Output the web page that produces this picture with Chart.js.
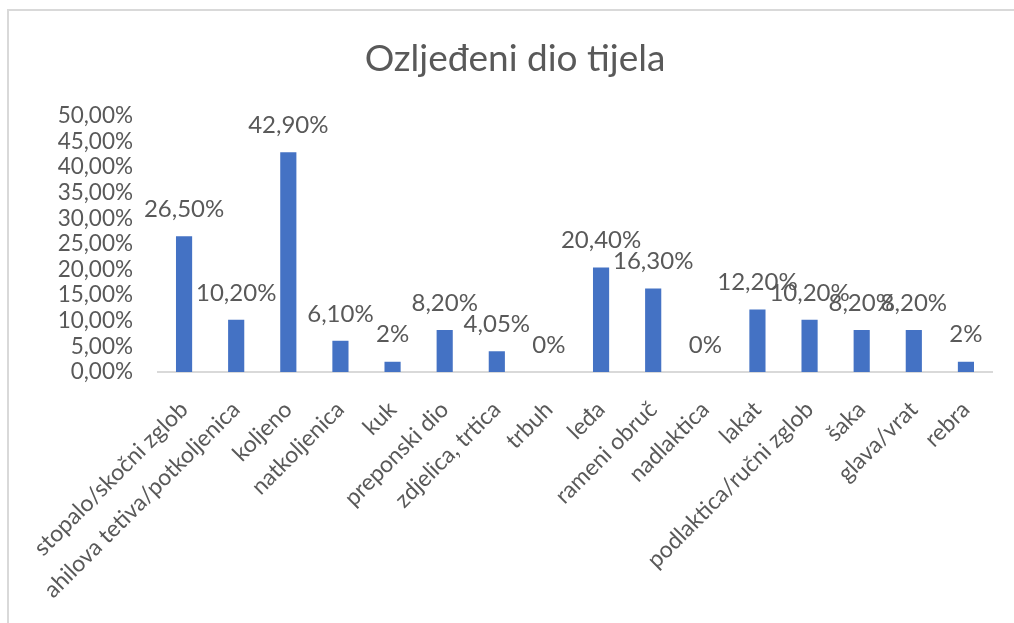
<!DOCTYPE html>
<html>
<head>
<meta charset="utf-8">
<script src="https://cdn.jsdelivr.net/npm/chart.js@4/dist/chart.umd.min.js"></script>
<style>
  html, body { margin: 0; padding: 0; background: #ffffff; overflow: hidden; }
  #wrap { position: relative; width: 1014px; height: 623px; }
  #frame { position: absolute; left: 7px; top: 9px; width: 1020px; height: 630px; border: 2px solid #d9d9d9; box-sizing: border-box; pointer-events: none; }
  canvas { position: absolute; left: 0; top: 0; }
</style>
</head>
<body>
<div id="wrap">
  <canvas id="c" width="1014" height="623"></canvas>
  <div id="frame"></div>
</div>
<script>
const chartTitle = "Ozljeđeni dio tijela";
const categories = [
  "stopalo/skočni zglob", "ahilova tetiva/potkoljenica", "koljeno", "natkoljenica",
  "kuk", "preponski dio", "zdjelica, trtica", "trbuh", "leđa", "rameni obruč",
  "nadlaktica", "lakat", "podlaktica/ručni zglob", "šaka", "glava/vrat", "rebra"
];
const values = [26.5, 10.2, 42.9, 6.1, 2, 8.2, 4.05, 0, 20.4, 16.3, 0, 12.2, 10.2, 8.2, 8.2, 2];
const valueLabels = ["26,50%", "10,20%", "42,90%", "6,10%", "2%", "8,20%", "4,05%", "0%",
  "20,40%", "16,30%", "0%", "12,20%", "10,20%", "8,20%", "8,20%", "2%"];
const yTickLabels = ["0,00%", "5,00%", "10,00%", "15,00%", "20,00%", "25,00%",
  "30,00%", "35,00%", "40,00%", "45,00%", "50,00%"];

const FONT = "Lato, 'Open Sans', sans-serif";
const TEXT = "#595959";

const dataLabelPlugin = {
  id: 'dataLabels',
  afterDatasetsDraw(chart) {
    const ctx = chart.ctx;
    const meta = chart.getDatasetMeta(0);
    ctx.save();
    ctx.font = "24px " + FONT;
    ctx.fillStyle = TEXT;
    ctx.textAlign = 'center';
    ctx.textBaseline = 'middle';
    meta.data.forEach((bar, i) => {
      ctx.fillText(valueLabels[i], bar.x, bar.y - 27);
    });
    ctx.restore();
  }
};

const titlePlugin = {
  id: 'excelTitle',
  afterDraw(chart) {
    const ctx = chart.ctx;
    ctx.save();
    ctx.font = "37px " + FONT;
    ctx.fillStyle = TEXT;
    ctx.textAlign = 'center';
    ctx.textBaseline = 'middle';
    ctx.fillText(chartTitle, 515, 58.6);
    ctx.restore();
  }
};

new Chart(document.getElementById('c'), {
  type: 'bar',
  data: {
    labels: categories,
    datasets: [{
      data: values,
      backgroundColor: '#4472c4',
      borderWidth: 0,
      barPercentage: 0.31,
      categoryPercentage: 1.0
    }]
  },
  options: {
    responsive: false,
    animation: false,
    devicePixelRatio: 1,
    layout: { padding: { left: 0, right: 22, top: 116, bottom: 0 } },
    plugins: {
      legend: { display: false },
      tooltip: { enabled: false },
      title: { display: false }
    },
    scales: {
      x: {
        grid: { display: false, drawTicks: false },
        border: { display: true, color: '#d9d9d9', width: 2 },
        ticks: {
          autoSkip: false,
          minRotation: 45,
          maxRotation: 45,
          color: TEXT,
          padding: 24,
          font: { family: FONT, size: 23 }
        },
        afterFit(scale) { scale.height = 251; }
      },
      y: {
        min: 0,
        max: 50,
        grid: { display: false, drawTicks: false },
        border: { display: false },
        ticks: {
          stepSize: 5,
          autoSkip: false,
          color: TEXT,
          padding: 25,
          font: { family: FONT, size: 22.5 },
          callback: (v, i) => yTickLabels[i]
        },
        afterFit(scale) { scale.width = 158; }
      }
    }
  },
  plugins: [dataLabelPlugin, titlePlugin]
});
</script>
</body>
</html>
